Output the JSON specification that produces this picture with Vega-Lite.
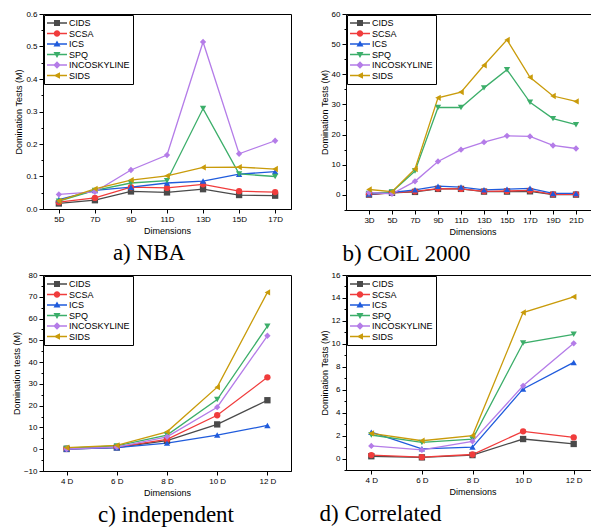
{
  "$schema": "https://vega.github.io/schema/vega-lite/v6.json",
  "padding": {"left": 11, "top": 9, "right": 0, "bottom": 0},
  "background": "white",
  "config": {
    "view": {"stroke": "black", "strokeWidth": 1},
    "font": "Liberation Sans",
    "axis": {"domainColor": "black", "tickColor": "black", "labelColor": "black", "titleColor": "black", "labelFont": "Liberation Sans", "titleFont": "Liberation Sans", "labelFontSize": 8, "titleFontSize": 9, "titleFontWeight": "normal", "grid": false, "tickSize": 4, "labelAngle": 0},
    "axisY": {"titlePadding": 2},
    "axisX": {"titlePadding": 3},
    "legend": {"orient": "top-left", "offset": 1, "padding": 3, "strokeColor": "black", "fillColor": "white", "labelFont": "Liberation Sans", "labelFontSize": 9, "labelColor": "black", "symbolSize": 100, "labelOffset": 12, "rowPadding": 0.5, "title": null, "symbolStrokeWidth": 0, "symbolOpacity": 1},
    "title": {"font": "Liberation Serif", "fontSize": 23, "fontWeight": "normal", "color": "black", "orient": "bottom", "offset": 7}
  },
  "datasets": {
    "a": [
      {"x": "5D", "s": "CIDS", "v": 0.017}, {"x": "7D", "s": "CIDS", "v": 0.027}, {"x": "9D", "s": "CIDS", "v": 0.054}, {"x": "11D", "s": "CIDS", "v": 0.051}, {"x": "13D", "s": "CIDS", "v": 0.061}, {"x": "15D", "s": "CIDS", "v": 0.043}, {"x": "17D", "s": "CIDS", "v": 0.041},
      {"x": "5D", "s": "SCSA", "v": 0.021}, {"x": "7D", "s": "SCSA", "v": 0.034}, {"x": "9D", "s": "SCSA", "v": 0.067}, {"x": "11D", "s": "SCSA", "v": 0.065}, {"x": "13D", "s": "SCSA", "v": 0.076}, {"x": "15D", "s": "SCSA", "v": 0.055}, {"x": "17D", "s": "SCSA", "v": 0.052},
      {"x": "5D", "s": "ICS", "v": 0.029}, {"x": "7D", "s": "ICS", "v": 0.057}, {"x": "9D", "s": "ICS", "v": 0.067}, {"x": "11D", "s": "ICS", "v": 0.08}, {"x": "13D", "s": "ICS", "v": 0.086}, {"x": "15D", "s": "ICS", "v": 0.107}, {"x": "17D", "s": "ICS", "v": 0.115},
      {"x": "5D", "s": "SPQ", "v": 0.024}, {"x": "7D", "s": "SPQ", "v": 0.057}, {"x": "9D", "s": "SPQ", "v": 0.08}, {"x": "11D", "s": "SPQ", "v": 0.087}, {"x": "13D", "s": "SPQ", "v": 0.309}, {"x": "15D", "s": "SPQ", "v": 0.108}, {"x": "17D", "s": "SPQ", "v": 0.1},
      {"x": "5D", "s": "INCOSKYLINE", "v": 0.045}, {"x": "7D", "s": "INCOSKYLINE", "v": 0.053}, {"x": "9D", "s": "INCOSKYLINE", "v": 0.12}, {"x": "11D", "s": "INCOSKYLINE", "v": 0.166}, {"x": "13D", "s": "INCOSKYLINE", "v": 0.514}, {"x": "15D", "s": "INCOSKYLINE", "v": 0.17}, {"x": "17D", "s": "INCOSKYLINE", "v": 0.21},
      {"x": "5D", "s": "SIDS", "v": 0.025}, {"x": "7D", "s": "SIDS", "v": 0.062}, {"x": "9D", "s": "SIDS", "v": 0.089}, {"x": "11D", "s": "SIDS", "v": 0.102}, {"x": "13D", "s": "SIDS", "v": 0.128}, {"x": "15D", "s": "SIDS", "v": 0.129}, {"x": "17D", "s": "SIDS", "v": 0.123}
    ],
    "b": [
      {"x": "3D", "s": "CIDS", "v": 0.1}, {"x": "5D", "s": "CIDS", "v": 0.7}, {"x": "7D", "s": "CIDS", "v": 1.0}, {"x": "9D", "s": "CIDS", "v": 2.0}, {"x": "11D", "s": "CIDS", "v": 2.0}, {"x": "13D", "s": "CIDS", "v": 1.1}, {"x": "15D", "s": "CIDS", "v": 1.1}, {"x": "17D", "s": "CIDS", "v": 1.2}, {"x": "19D", "s": "CIDS", "v": 0.1}, {"x": "21D", "s": "CIDS", "v": 0.1},
      {"x": "3D", "s": "SCSA", "v": 0.2}, {"x": "5D", "s": "SCSA", "v": 0.7}, {"x": "7D", "s": "SCSA", "v": 1.2}, {"x": "9D", "s": "SCSA", "v": 2.1}, {"x": "11D", "s": "SCSA", "v": 2.0}, {"x": "13D", "s": "SCSA", "v": 1.2}, {"x": "15D", "s": "SCSA", "v": 1.3}, {"x": "17D", "s": "SCSA", "v": 1.5}, {"x": "19D", "s": "SCSA", "v": 0.2}, {"x": "21D", "s": "SCSA", "v": 0.2},
      {"x": "3D", "s": "ICS", "v": 0.3}, {"x": "5D", "s": "ICS", "v": 0.8}, {"x": "7D", "s": "ICS", "v": 1.7}, {"x": "9D", "s": "ICS", "v": 2.9}, {"x": "11D", "s": "ICS", "v": 2.6}, {"x": "13D", "s": "ICS", "v": 1.7}, {"x": "15D", "s": "ICS", "v": 1.9}, {"x": "17D", "s": "ICS", "v": 2.2}, {"x": "19D", "s": "ICS", "v": 0.5}, {"x": "21D", "s": "ICS", "v": 0.5},
      {"x": "3D", "s": "SPQ", "v": 0.5}, {"x": "5D", "s": "SPQ", "v": 1.0}, {"x": "7D", "s": "SPQ", "v": 7.9}, {"x": "9D", "s": "SPQ", "v": 29.0}, {"x": "11D", "s": "SPQ", "v": 29.0}, {"x": "13D", "s": "SPQ", "v": 35.5}, {"x": "15D", "s": "SPQ", "v": 41.5}, {"x": "17D", "s": "SPQ", "v": 30.7}, {"x": "19D", "s": "SPQ", "v": 25.3}, {"x": "21D", "s": "SPQ", "v": 23.3},
      {"x": "3D", "s": "INCOSKYLINE", "v": 0.8}, {"x": "5D", "s": "INCOSKYLINE", "v": 0.4}, {"x": "7D", "s": "INCOSKYLINE", "v": 4.5}, {"x": "9D", "s": "INCOSKYLINE", "v": 11.1}, {"x": "11D", "s": "INCOSKYLINE", "v": 15.0}, {"x": "13D", "s": "INCOSKYLINE", "v": 17.5}, {"x": "15D", "s": "INCOSKYLINE", "v": 19.6}, {"x": "17D", "s": "INCOSKYLINE", "v": 19.4}, {"x": "19D", "s": "INCOSKYLINE", "v": 16.4}, {"x": "21D", "s": "INCOSKYLINE", "v": 15.4},
      {"x": "3D", "s": "SIDS", "v": 1.8}, {"x": "5D", "s": "SIDS", "v": 1.1}, {"x": "7D", "s": "SIDS", "v": 8.6}, {"x": "9D", "s": "SIDS", "v": 32.2}, {"x": "11D", "s": "SIDS", "v": 34.1}, {"x": "13D", "s": "SIDS", "v": 43.0}, {"x": "15D", "s": "SIDS", "v": 51.4}, {"x": "17D", "s": "SIDS", "v": 39.0}, {"x": "19D", "s": "SIDS", "v": 32.8}, {"x": "21D", "s": "SIDS", "v": 31.0}
    ],
    "c": [
      {"x": "4 D", "s": "CIDS", "v": 0.1}, {"x": "6 D", "s": "CIDS", "v": 0.8}, {"x": "8 D", "s": "CIDS", "v": 3.9}, {"x": "10 D", "s": "CIDS", "v": 11.4}, {"x": "12 D", "s": "CIDS", "v": 22.5},
      {"x": "4 D", "s": "SCSA", "v": 0.2}, {"x": "6 D", "s": "SCSA", "v": 1.0}, {"x": "8 D", "s": "SCSA", "v": 4.5}, {"x": "10 D", "s": "SCSA", "v": 15.6}, {"x": "12 D", "s": "SCSA", "v": 33.0},
      {"x": "4 D", "s": "ICS", "v": 0.1}, {"x": "6 D", "s": "ICS", "v": 0.7}, {"x": "8 D", "s": "ICS", "v": 2.8}, {"x": "10 D", "s": "ICS", "v": 6.5}, {"x": "12 D", "s": "ICS", "v": 10.9},
      {"x": "4 D", "s": "SPQ", "v": 0.5}, {"x": "6 D", "s": "SPQ", "v": 1.5}, {"x": "8 D", "s": "SPQ", "v": 6.5}, {"x": "10 D", "s": "SPQ", "v": 22.8}, {"x": "12 D", "s": "SPQ", "v": 56.5},
      {"x": "4 D", "s": "INCOSKYLINE", "v": 0.1}, {"x": "6 D", "s": "INCOSKYLINE", "v": 1.0}, {"x": "8 D", "s": "INCOSKYLINE", "v": 5.7}, {"x": "10 D", "s": "INCOSKYLINE", "v": 19.3}, {"x": "12 D", "s": "INCOSKYLINE", "v": 52.1},
      {"x": "4 D", "s": "SIDS", "v": 0.7}, {"x": "6 D", "s": "SIDS", "v": 1.8}, {"x": "8 D", "s": "SIDS", "v": 8.0}, {"x": "10 D", "s": "SIDS", "v": 28.5}, {"x": "12 D", "s": "SIDS", "v": 72.0}
    ],
    "d": [
      {"x": "4 D", "s": "CIDS", "v": 0.2}, {"x": "6 D", "s": "CIDS", "v": 0.1}, {"x": "8 D", "s": "CIDS", "v": 0.3}, {"x": "10 D", "s": "CIDS", "v": 1.7}, {"x": "12 D", "s": "CIDS", "v": 1.27},
      {"x": "4 D", "s": "SCSA", "v": 0.3}, {"x": "6 D", "s": "SCSA", "v": 0.12}, {"x": "8 D", "s": "SCSA", "v": 0.35}, {"x": "10 D", "s": "SCSA", "v": 2.37}, {"x": "12 D", "s": "SCSA", "v": 1.84},
      {"x": "4 D", "s": "ICS", "v": 2.3}, {"x": "6 D", "s": "ICS", "v": 0.85}, {"x": "8 D", "s": "ICS", "v": 1.0}, {"x": "10 D", "s": "ICS", "v": 6.07}, {"x": "12 D", "s": "ICS", "v": 8.38},
      {"x": "4 D", "s": "SPQ", "v": 2.05}, {"x": "6 D", "s": "SPQ", "v": 1.4}, {"x": "8 D", "s": "SPQ", "v": 1.7}, {"x": "10 D", "s": "SPQ", "v": 10.07}, {"x": "12 D", "s": "SPQ", "v": 10.83},
      {"x": "4 D", "s": "INCOSKYLINE", "v": 1.1}, {"x": "6 D", "s": "INCOSKYLINE", "v": 0.75}, {"x": "8 D", "s": "INCOSKYLINE", "v": 1.5}, {"x": "10 D", "s": "INCOSKYLINE", "v": 6.34}, {"x": "12 D", "s": "INCOSKYLINE", "v": 10.04},
      {"x": "4 D", "s": "SIDS", "v": 2.2}, {"x": "6 D", "s": "SIDS", "v": 1.55}, {"x": "8 D", "s": "SIDS", "v": 2.0}, {"x": "10 D", "s": "SIDS", "v": 12.73}, {"x": "12 D", "s": "SIDS", "v": 14.1}
    ]
  },
  "resolve": {"legend": {"color": "independent"}, "scale": {"x": "independent", "y": "independent"}},
  "spacing": 3,
  "vconcat": [
    {
      "resolve": {"legend": {"color": "independent"}, "scale": {"x": "independent", "y": "independent"}},
      "spacing": 27,
      "hconcat": [
        {
          "data": {"name": "a"},
          "width": 248, "height": 195,
          "title": {"text": "a) NBA", "dx": -18},
          "encoding": {
            "x": {"field": "x", "type": "ordinal", "scale": {"type": "point", "domain": ["5D", "7D", "9D", "11D", "13D", "15D", "17D"], "padding": 0.44}, "axis": {"title": "Dimensions"}},
            "y": {"field": "v", "type": "quantitative", "scale": {"domain": [0, 0.6], "nice": false}, "axis": {"title": "Domination Tests (M)", "values": [0, 0.05, 0.1, 0.15, 0.2, 0.25, 0.3, 0.35, 0.4, 0.45, 0.5, 0.55, 0.6], "labelExpr": "abs(datum.value*10-round(datum.value*10))<0.001 ? format(datum.value,'.1f') : ''", "tickSize": {"condition": {"test": "abs(datum.value*10-round(datum.value*10))<0.001", "value": 4}, "value": 2}}},
            "color": {"field": "s", "type": "nominal", "scale": {"domain": ["CIDS", "SCSA", "ICS", "SPQ", "INCOSKYLINE", "SIDS"], "range": ["#4a4a4a", "#f03c3c", "#1f5bdc", "#3cae6a", "#b47ce8", "#c99b0a"]},
              "legend": {"encode": {"symbols": {"update": {"shape": {"signal": "datum.value==='CIDS' ? 'M-1,-0.13H3V0.13H-1Z M0.4,-0.6H1.6V0.6H0.4Z' : datum.value==='SCSA' ? 'M-1,-0.13H3V0.13H-1Z M0.35,0A0.65,0.65 0 1 1 1.65,0A0.65,0.65 0 1 1 0.35,0Z' : datum.value==='ICS' ? 'M-1,-0.13H3V0.13H-1Z M1,-0.7L1.7,0.5L0.3,0.5Z' : datum.value==='SPQ' ? 'M-1,-0.13H3V0.13H-1Z M1,0.7L0.3,-0.5L1.7,-0.5Z' : datum.value==='INCOSKYLINE' ? 'M-1,-0.13H3V0.13H-1Z M1,-0.75L1.75,0L1,0.75L0.25,0Z' : 'M-1,-0.13H3V0.13H-1Z M0.3,0L1.6,-0.65L1.6,0.65Z'"}}}}}}
          },
          "layer": [
            {"mark": {"type": "line", "strokeWidth": 1.3}},
            {"mark": {"type": "point", "filled": true, "size": 40, "opacity": 1}, "encoding": {"shape": {"field": "s", "type": "nominal", "scale": {"domain": ["CIDS", "SCSA", "ICS", "SPQ", "INCOSKYLINE", "SIDS"], "range": ["square", "circle", "triangle-up", "triangle-down", "diamond", "triangle-left"]}, "legend": null}}}
          ]
        },
        {
          "data": {"name": "b"},
          "width": 253, "height": 196,
          "title": {"text": "b) COiL 2000", "dx": -66},
          "encoding": {
            "x": {"field": "x", "type": "ordinal", "scale": {"type": "point", "domain": ["3D", "5D", "7D", "9D", "11D", "13D", "15D", "17D", "19D", "21D"], "padding": 1}, "axis": {"title": "Dimensions"}},
            "y": {"field": "v", "type": "quantitative", "scale": {"domain": [-5, 60], "nice": false, "zero": false}, "axis": {"title": "Domination Tests (M)", "values": [-5, 0, 5, 10, 15, 20, 25, 30, 35, 40, 45, 50, 55, 60], "labelExpr": "datum.value % 10 === 0 ? datum.label : ''", "tickSize": {"condition": {"test": "datum.value % 10 === 0", "value": 4}, "value": 2}}},
            "color": {"field": "s", "type": "nominal", "scale": {"domain": ["CIDS", "SCSA", "ICS", "SPQ", "INCOSKYLINE", "SIDS"], "range": ["#4a4a4a", "#f03c3c", "#1f5bdc", "#3cae6a", "#b47ce8", "#c99b0a"]},
              "legend": {"encode": {"symbols": {"update": {"shape": {"signal": "datum.value==='CIDS' ? 'M-1,-0.13H3V0.13H-1Z M0.4,-0.6H1.6V0.6H0.4Z' : datum.value==='SCSA' ? 'M-1,-0.13H3V0.13H-1Z M0.35,0A0.65,0.65 0 1 1 1.65,0A0.65,0.65 0 1 1 0.35,0Z' : datum.value==='ICS' ? 'M-1,-0.13H3V0.13H-1Z M1,-0.7L1.7,0.5L0.3,0.5Z' : datum.value==='SPQ' ? 'M-1,-0.13H3V0.13H-1Z M1,0.7L0.3,-0.5L1.7,-0.5Z' : datum.value==='INCOSKYLINE' ? 'M-1,-0.13H3V0.13H-1Z M1,-0.75L1.75,0L1,0.75L0.25,0Z' : 'M-1,-0.13H3V0.13H-1Z M0.3,0L1.6,-0.65L1.6,0.65Z'"}}}}}}
          },
          "layer": [
            {"mark": {"type": "line", "strokeWidth": 1.3}},
            {"mark": {"type": "point", "filled": true, "size": 40, "opacity": 1}, "encoding": {"shape": {"field": "s", "type": "nominal", "scale": {"domain": ["CIDS", "SCSA", "ICS", "SPQ", "INCOSKYLINE", "SIDS"], "range": ["square", "circle", "triangle-up", "triangle-down", "diamond", "triangle-left"]}, "legend": null}}}
          ]
        }
      ]
    },
    {
      "resolve": {"legend": {"color": "independent"}, "scale": {"x": "independent", "y": "independent"}},
      "spacing": 27,
      "hconcat": [
        {
          "data": {"name": "c"},
          "width": 248, "height": 196,
          "title": {"text": "c) independent", "dx": -1},
          "encoding": {
            "x": {"field": "x", "type": "ordinal", "scale": {"type": "point", "domain": ["4 D", "6 D", "8 D", "10 D", "12 D"], "padding": 0.47}, "axis": {"title": "Dimensions"}},
            "y": {"field": "v", "type": "quantitative", "scale": {"domain": [-10, 80], "nice": false, "zero": false}, "axis": {"title": "Domination tests (M)", "values": [-10, -5, 0, 5, 10, 15, 20, 25, 30, 35, 40, 45, 50, 55, 60, 65, 70, 75, 80], "labelExpr": "datum.value % 10 === 0 ? datum.label : ''", "tickSize": {"condition": {"test": "datum.value % 10 === 0", "value": 4}, "value": 2}}},
            "color": {"field": "s", "type": "nominal", "scale": {"domain": ["CIDS", "SCSA", "ICS", "SPQ", "INCOSKYLINE", "SIDS"], "range": ["#4a4a4a", "#f03c3c", "#1f5bdc", "#3cae6a", "#b47ce8", "#c99b0a"]},
              "legend": {"encode": {"symbols": {"update": {"shape": {"signal": "datum.value==='CIDS' ? 'M-1,-0.13H3V0.13H-1Z M0.4,-0.6H1.6V0.6H0.4Z' : datum.value==='SCSA' ? 'M-1,-0.13H3V0.13H-1Z M0.35,0A0.65,0.65 0 1 1 1.65,0A0.65,0.65 0 1 1 0.35,0Z' : datum.value==='ICS' ? 'M-1,-0.13H3V0.13H-1Z M1,-0.7L1.7,0.5L0.3,0.5Z' : datum.value==='SPQ' ? 'M-1,-0.13H3V0.13H-1Z M1,0.7L0.3,-0.5L1.7,-0.5Z' : datum.value==='INCOSKYLINE' ? 'M-1,-0.13H3V0.13H-1Z M1,-0.75L1.75,0L1,0.75L0.25,0Z' : 'M-1,-0.13H3V0.13H-1Z M0.3,0L1.6,-0.65L1.6,0.65Z'"}}}}}}
          },
          "layer": [
            {"mark": {"type": "line", "strokeWidth": 1.3}},
            {"mark": {"type": "point", "filled": true, "size": 40, "opacity": 1}, "encoding": {"shape": {"field": "s", "type": "nominal", "scale": {"domain": ["CIDS", "SCSA", "ICS", "SPQ", "INCOSKYLINE", "SIDS"], "range": ["square", "circle", "triangle-up", "triangle-down", "diamond", "triangle-left"]}, "legend": null}}}
          ]
        },
        {
          "data": {"name": "d"},
          "width": 253, "height": 195,
          "title": {"text": "d) Correlated", "dx": -92},
          "encoding": {
            "x": {"field": "x", "type": "ordinal", "scale": {"type": "point", "domain": ["4 D", "6 D", "8 D", "10 D", "12 D"], "padding": 0.5}, "axis": {"title": "Dimensions"}},
            "y": {"field": "v", "type": "quantitative", "scale": {"domain": [-1, 16], "nice": false, "zero": false}, "axis": {"title": "Domination Tests (M)", "values": [-1, 0, 1, 2, 3, 4, 5, 6, 7, 8, 9, 10, 11, 12, 13, 14, 15, 16], "labelExpr": "datum.value % 2 === 0 ? datum.label : ''", "tickSize": {"condition": {"test": "datum.value % 2 === 0", "value": 4}, "value": 2}}},
            "color": {"field": "s", "type": "nominal", "scale": {"domain": ["CIDS", "SCSA", "ICS", "SPQ", "INCOSKYLINE", "SIDS"], "range": ["#4a4a4a", "#f03c3c", "#1f5bdc", "#3cae6a", "#b47ce8", "#c99b0a"]},
              "legend": {"encode": {"symbols": {"update": {"shape": {"signal": "datum.value==='CIDS' ? 'M-1,-0.13H3V0.13H-1Z M0.4,-0.6H1.6V0.6H0.4Z' : datum.value==='SCSA' ? 'M-1,-0.13H3V0.13H-1Z M0.35,0A0.65,0.65 0 1 1 1.65,0A0.65,0.65 0 1 1 0.35,0Z' : datum.value==='ICS' ? 'M-1,-0.13H3V0.13H-1Z M1,-0.7L1.7,0.5L0.3,0.5Z' : datum.value==='SPQ' ? 'M-1,-0.13H3V0.13H-1Z M1,0.7L0.3,-0.5L1.7,-0.5Z' : datum.value==='INCOSKYLINE' ? 'M-1,-0.13H3V0.13H-1Z M1,-0.75L1.75,0L1,0.75L0.25,0Z' : 'M-1,-0.13H3V0.13H-1Z M0.3,0L1.6,-0.65L1.6,0.65Z'"}}}}}}
          },
          "layer": [
            {"mark": {"type": "line", "strokeWidth": 1.3}},
            {"mark": {"type": "point", "filled": true, "size": 40, "opacity": 1}, "encoding": {"shape": {"field": "s", "type": "nominal", "scale": {"domain": ["CIDS", "SCSA", "ICS", "SPQ", "INCOSKYLINE", "SIDS"], "range": ["square", "circle", "triangle-up", "triangle-down", "diamond", "triangle-left"]}, "legend": null}}}
          ]
        }
      ]
    }
  ]
}
